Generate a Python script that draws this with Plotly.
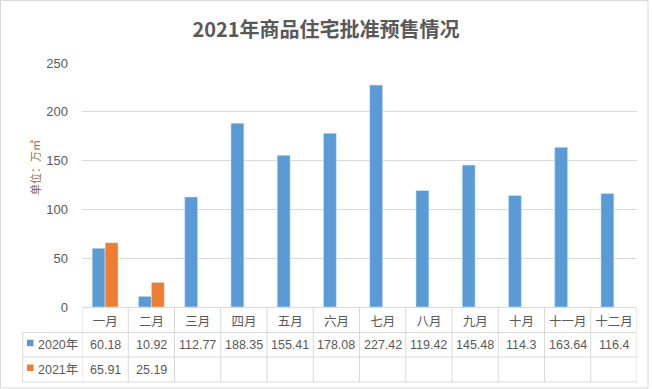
import plotly.graph_objects as go

months = ["一月", "二月", "三月", "四月", "五月", "六月", "七月", "八月", "九月", "十月", "十一月", "十二月"]
series_names = ["2020年", "2021年"]
values_2020 = [60.18, 10.92, 112.77, 188.35, 155.41, 178.08, 227.42, 119.42, 145.48, 114.3, 163.64, 116.4]
values_2021 = [65.91, 25.19]
colors = ["#5B9BD5", "#ED7D31"]
title_text = "2021年商品住宅批准预售情况"
y_title = "单位：万㎡"

W, H = 652, 389
ML, MR, MT, MB = 82, 15, 63, 82
PW, PH = W - ML - MR, H - MT - MB
AX_Y = MT + PH  # pixel y of x-axis


def py2paper(py):
    return (AX_Y - py) / PH


def px2paper(px):
    return (px - ML) / PW


FONT = "Liberation Sans, Noto Sans CJK SC, sans-serif"
GRID = "#D9D9D9"
TXT = "#595959"

fig = go.Figure()
x_idx = list(range(len(months)))
fig.add_trace(go.Bar(x=x_idx, y=values_2020, name=series_names[0], marker_color=colors[0]))
fig.add_trace(go.Bar(x=x_idx[:len(values_2021)], y=values_2021, name=series_names[1], marker_color=colors[1]))

# table geometry (pixels)
row_lines = [AX_Y, 332.5, 357, 382]
left_px = 22.7

shapes = []
# vertical lines at category boundaries
for i in range(len(months) + 1):
    shapes.append(dict(type="line", xref="x", yref="paper", x0=i - 0.5, x1=i - 0.5,
                       y0=py2paper(row_lines[0]), y1=py2paper(row_lines[-1]),
                       line=dict(color=GRID, width=1)))
# left column vertical
shapes.append(dict(type="line", xref="paper", yref="paper", x0=px2paper(left_px), x1=px2paper(left_px),
                   y0=py2paper(row_lines[1]), y1=py2paper(row_lines[-1]), line=dict(color=GRID, width=1)))
# horizontal lines
for ry in row_lines[1:]:
    shapes.append(dict(type="line", xref="paper", yref="paper", x0=px2paper(left_px), x1=1,
                       y0=py2paper(ry), y1=py2paper(ry), line=dict(color=GRID, width=1)))
# outer chart border
shapes.append(dict(type="rect", xref="paper", yref="paper", x0=px2paper(0.5), x1=px2paper(648),
                   y0=py2paper(0.5), y1=py2paper(388), line=dict(color=GRID, width=1)))

annotations = []
series_vals = [values_2020, values_2021]
for r, (name, vals, col) in enumerate(zip(series_names, series_vals, colors)):
    top, bot = row_lines[r + 1], row_lines[r + 2]
    cy = (top + bot) / 2
    # legend key square
    shapes.append(dict(type="rect", xref="paper", yref="paper", x0=px2paper(27), x1=px2paper(33.5),
                       y0=py2paper(cy - 5), y1=py2paper(cy + 1.5), fillcolor=col, line=dict(width=0)))
    annotations.append(dict(xref="paper", yref="paper", x=px2paper(36), y=py2paper(cy), text=name,
                            showarrow=False, xanchor="left", yanchor="middle",
                            font=dict(family=FONT, size=12.5, color=TXT)))
    for i, v in enumerate(vals):
        annotations.append(dict(xref="x", yref="paper", x=i, y=py2paper(cy), text=f"{v:g}",
                                showarrow=False, xanchor="center", yanchor="middle",
                                font=dict(family=FONT, size=12.5, color=TXT)))

# y-axis title
annotations.append(dict(xref="paper", yref="paper", x=px2paper(35), y=py2paper(168), text=y_title,
                        textangle=-90, showarrow=False, xanchor="center", yanchor="middle",
                        font=dict(family=FONT, size=11, color="#8C6A4A")))

fig.update_layout(
    width=W, height=H,
    margin=dict(l=ML, r=MR, t=MT, b=MB),
    paper_bgcolor="white", plot_bgcolor="white",
    showlegend=False,
    barmode="group", bargap=0.44, bargroupgap=0,
    title=dict(text=f"<b>{title_text}</b>", x=0.5, xref="container", xanchor="center",
               y=1 - 30 / H, yref="container", yanchor="middle",
               font=dict(family="Noto Sans CJK SC, sans-serif", size=20, color=TXT)),
    xaxis=dict(tickmode="array", tickvals=x_idx, ticktext=months, range=[-0.5, len(months) - 0.5],
               showline=True, linecolor=GRID, linewidth=1, showgrid=False, zeroline=False,
               ticks="", ticklabelstandoff=3,
               tickfont=dict(family=FONT, size=12.5, color=TXT)),
    yaxis=dict(range=[0, 250], dtick=50, showgrid=True, gridcolor=GRID, gridwidth=1,
               zeroline=False, showline=False, ticks="", ticklabelstandoff=13,
               tickfont=dict(family=FONT, size=13, color=TXT)),
    shapes=shapes,
    annotations=annotations,
)

fig.write_html("out.html", config={"displayModeBar": False},
               post_script="document.body.style.margin='0';")
